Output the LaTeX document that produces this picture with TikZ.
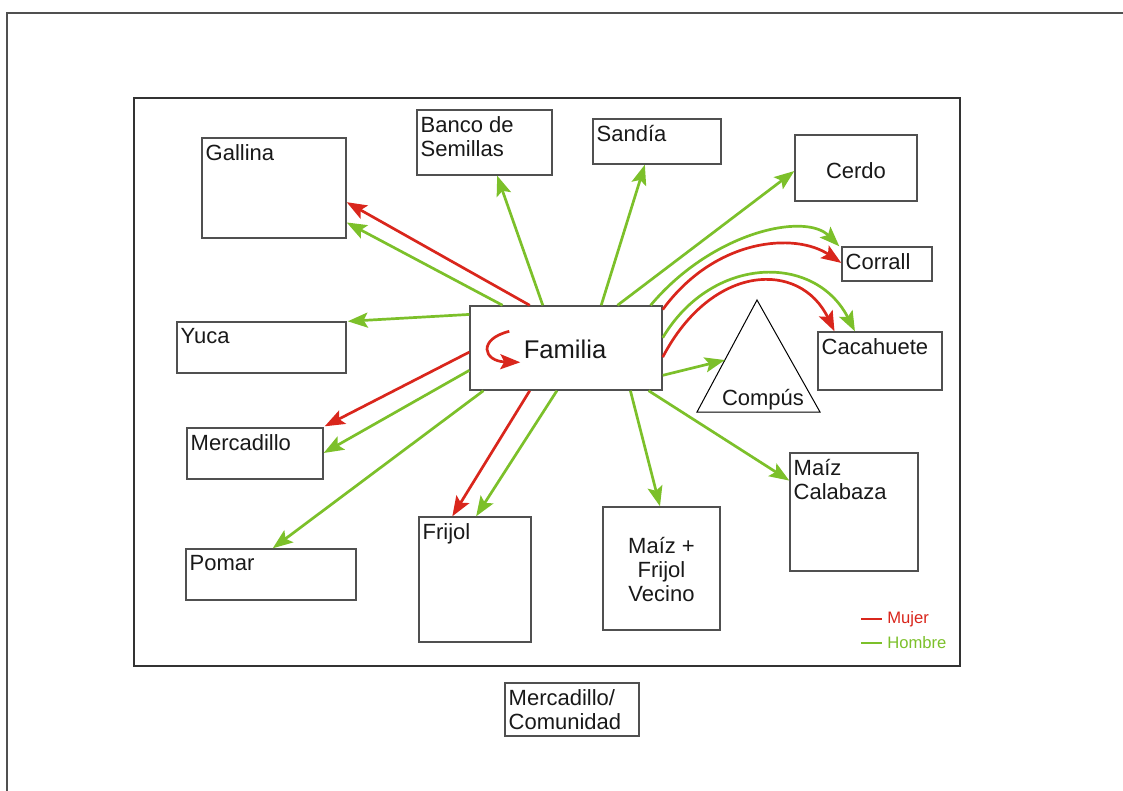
\documentclass[tikz,border=0pt]{standalone}
\usepackage{fontspec}
\setmainfont{Liberation Sans}
\usetikzlibrary{arrows.meta,calc,fit}

\definecolor{mujer}{HTML}{D9261C}
\definecolor{hombre}{HTML}{7CC02A}
\definecolor{edge}{HTML}{505050}

\tikzset{
  box/.style={draw=edge, line width=0.7pt, inner sep=0pt, fill=white},
  tag/.style={font=\fontsize{11}{11.8}\selectfont, align=left, inner sep=2pt, text=black!90},
  corner/.style={label={[tag, anchor=north west, yshift=-1.5pt]north west:#1}},
  flow/.style={line width=1.35pt},
  fm/.style={flow, draw=mujer, -{Stealth[length=10pt, width=7.5pt, inset=2pt, fill=mujer]}},
  fh/.style={flow, draw=hombre, -{Stealth[length=10pt, width=7.5pt, inset=2pt, fill=hombre]}},
}

\begin{document}
\begin{tikzpicture}[x=0.5pt, y=-0.5pt]
\useasboundingbox (0,0) rectangle (1123,791);

% page frame (open to the right and bottom)
\draw[edge, line width=0.6pt] (1123,13) -- (7,13) -- (7,791);
% field frame
\draw[black!80, line width=0.6pt] (134,98) rectangle (960,666);

% boxes
\node[box, fit={(202,138) (346,238)}, corner=Gallina] (gallina) {};
\node[box, fit={(417,110) (552,175)}, corner={Banco de\\Semillas}] (banco) {};
\node[box, fit={(593,119) (721,164)}, corner={Sandía}] (sandia) {};
\node[box, fit={(795,135) (917,201)}] (cerdo) {};
\node[tag] (cerdotxt) at ($(cerdo.center)+(0,3)$) {Cerdo};
\node[box, fit={(842,247) (932,281)}, corner=Corrall] (corral) {};
\node[box, fit={(177,322) (346,373)}, corner=Yuca] (yuca) {};
\node[box, fit={(818,332) (942,390)}, corner=Cacahuete] (cacahuete) {};
\node[box, fit={(187,428) (323,479)}, corner=Mercadillo] (mercadillo) {};
\node[box, fit={(186,549) (356,600)}, corner=Pomar] (pomar) {};
\node[box, fit={(419,517) (531,642)}, corner=Frijol] (frijol) {};
\node[box, fit={(603,507) (720,630)}] (mfv) {};
\node[tag, align=center, font=\fontsize{11}{12}\selectfont] (mfvtxt) at (661.5,570) {Maíz +\\Frijol\\Vecino};
\node[box, fit={(790,453) (918,571)}, corner={Maíz\\Calabaza}] (calabaza) {};
\node[box, fit={(505,683) (639,736)}, corner={Mercadillo/\\Comunidad}] (comunidad) {};

% Compús triangle
\coordinate (capex) at (757,300);
\coordinate (cleft) at (697,412);
\coordinate (cright) at (820,412);
\draw[black, line width=0.5pt] (capex) -- (cleft) -- (cright) -- cycle;
\node[tag] (compus) at (763,400) {Compús};

% family
\node[box, fit={(470,306) (662,390)}] (familia) {};
\node[font=\fontsize{12.8}{14}\selectfont, text=black!90, inner sep=0pt] (familiatxt) at (565,349) {Familia};
\draw[fm] ($(familia.north west)+(40,26)$) .. controls ($(familia.north west)+(8,34)$) and ($(familia.north west)+(14,56)$) .. ($(familia.north west)+(51,57)$);

% upward
\draw[fm] ($(familia.north west)!0.3125!(familia.north east)$) -- ($(gallina.north east)!0.64!(gallina.south east)$);
\draw[fh] ($(familia.north west)!0.172!(familia.north east)$) -- ($(gallina.north east)!0.84!(gallina.south east)$);
\draw[fh] ($(familia.north west)!0.38!(familia.north east)$) -- ($(banco.south west)!0.593!(banco.south east)$);
\draw[fh] ($(familia.north west)!0.682!(familia.north east)$) -- ($(sandia.south west)!0.406!(sandia.south east)$);
\draw[fh] ($(familia.north west)!0.766!(familia.north east)$) -- ($(cerdo.north west)!0.545!(cerdo.south west)$);

% arcs to the right
\draw[fh] ($(familia.north west)!0.9375!(familia.north east)$) .. controls (712,232) and (805,212) .. ($(corral.north west)+(-2,0)$);
\draw[fm] ($(familia.north east)!0.05!(familia.south east)$) .. controls (715,238) and (795,232) .. ($(corral.north west)!0.47!(corral.south west)$);
\draw[fh] ($(familia.north east)!0.38!(familia.south east)$) .. controls (712,255) and (815,253) .. ($(cacahuete.north west)!0.3!(cacahuete.north east)$);
\draw[fm] ($(familia.north east)!0.607!(familia.south east)$) .. controls (712,263) and (800,260) .. ($(cacahuete.north west)!0.137!(cacahuete.north east)$);
\draw[fh] ($(familia.north east)!0.82!(familia.south east)$) -- ($(capex)!0.536!(cleft)$);

% left side
\draw[fh] ($(familia.north west)!0.107!(familia.south west)$) -- ($(yuca.north east)+(1,0)$);
\draw[fm] ($(familia.north west)!0.548!(familia.south west)$) -- ($(mercadillo.north east)+(1,-1)$);
\draw[fh] ($(familia.north west)!0.762!(familia.south west)$) -- ($(mercadillo.north east)!0.49!(mercadillo.south east)$);

% downward
\draw[fh] ($(familia.south west)!0.073!(familia.south east)$) -- ($(pomar.north west)!0.51!(pomar.north east)$);
\draw[fm] ($(familia.south west)!0.3125!(familia.south east)$) -- ($(frijol.north west)!0.30!(frijol.north east)$);
\draw[fh] ($(familia.south west)!0.453!(familia.south east)$) -- ($(frijol.north west)!0.51!(frijol.north east)$);
\draw[fh] ($(familia.south west)!0.833!(familia.south east)$) -- ($(mfv.north west)!0.487!(mfv.north east)$);
\draw[fh] ($(familia.south west)!0.927!(familia.south east)$) -- ($(calabaza.north west)!0.237!(calabaza.south west)$);

% legend
\coordinate (lm1) at (861,619);
\coordinate (lm2) at (882,619);
\coordinate (lh1) at (861,643);
\coordinate (lh2) at (882,643);
\draw[mujer, line width=1.35pt] (lm1) -- (lm2);
\draw[hombre, line width=1.35pt] (lh1) -- (lh2);
\node[anchor=west, inner sep=0pt, text=mujer, font=\fontsize{8.3}{9}\selectfont] (lmtxt) at (887,619) {Mujer};
\node[anchor=west, inner sep=0pt, text=hombre, font=\fontsize{8.3}{9}\selectfont] (lhtxt) at (887,643) {Hombre};
\end{tikzpicture}
\end{document}
